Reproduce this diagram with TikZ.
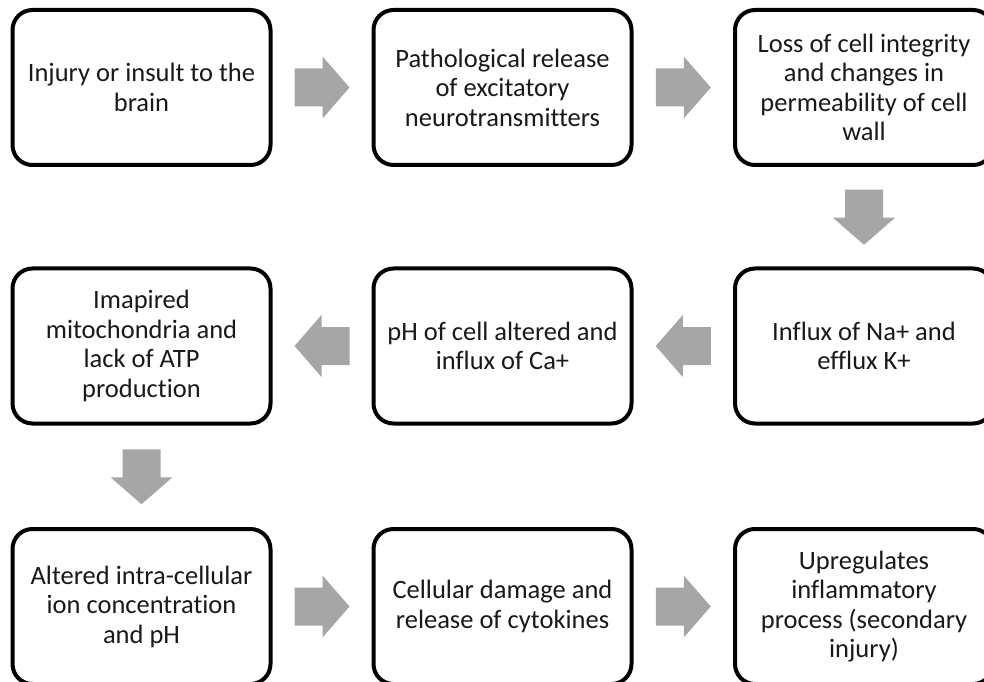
\documentclass[tikz,border=0pt]{standalone}
\usepackage{fontspec}
\setmainfont[Ligatures=NoCommon]{Carlito}
\usetikzlibrary{calc}
\definecolor{arrowgray}{HTML}{A6A6A6}
\begin{document}
\begin{tikzpicture}[x=1pt,y=1pt,
  box/.style={draw=black, line width=4pt, rounded corners=20pt, minimum width=258pt, minimum height=155pt, align=center, font=\fontsize{26.5}{29.5}\selectfont, inner sep=0pt, fill=white, text=black!90},
  arr/.style={fill=arrowgray, draw=none}]
\useasboundingbox (0,0) rectangle (984,681);
\clip (0,0) rectangle (984,681);
\node[box] (b1) at (141.5,593.5) {Injury or insult to the\\brain};
\node[box] (b2) at (502.5,593.5) {Pathological release\\of excitatory\\neurotransmitters};
\node[box] (b3) at (864,593.5) {Loss of cell integrity\\and changes in\\permeability of cell\\wall};
\node[box] (b4) at (864,335) {Influx of Na+ and\\efflux K+};
\node[box] (b5) at (502.5,335) {pH of cell altered and\\influx of Ca+};
\node[box] (b6) at (141.5,335) {Imapired\\mitochondria and\\lack of ATP\\production};
\node[box] (b7) at (141.5,74.5) {Altered intra-cellular\\ion concentration\\and pH};
\node[box] (b8) at (502.5,74.5) {Cellular damage and\\release of cytokines};
\node[box] (b9) at (864,74.5) {Upregulates\\inflammatory\\process (secondary\\injury)};
% right arrows
\fill[arr] ($(b1.east)!0.5!(b2.west)$) ++(-27.5,-19) -- ++(28,0) -- ++(0,-12) -- ++(27,31) -- ++(-27,31) -- ++(0,-12) -- ++(-28,0) -- cycle;
\fill[arr] ($(b2.east)!0.5!(b3.west)$) ++(-27.5,-19) -- ++(28,0) -- ++(0,-12) -- ++(27,31) -- ++(-27,31) -- ++(0,-12) -- ++(-28,0) -- cycle;
\fill[arr] ($(b7.east)!0.5!(b8.west)$) ++(-27.5,-19) -- ++(28,0) -- ++(0,-12) -- ++(27,31) -- ++(-27,31) -- ++(0,-12) -- ++(-28,0) -- cycle;
\fill[arr] ($(b8.east)!0.5!(b9.west)$) ++(-27.5,-19) -- ++(28,0) -- ++(0,-12) -- ++(27,31) -- ++(-27,31) -- ++(0,-12) -- ++(-28,0) -- cycle;
% left arrows
\fill[arr] ($(b4.west)!0.5!(b5.east)$) ++(27.5,-19) -- ++(-28,0) -- ++(0,-12) -- ++(-27,31) -- ++(27,31) -- ++(0,-12) -- ++(28,0) -- cycle;
\fill[arr] ($(b5.west)!0.5!(b6.east)$) ++(27.5,-19) -- ++(-28,0) -- ++(0,-12) -- ++(-27,31) -- ++(27,31) -- ++(0,-12) -- ++(28,0) -- cycle;
% down arrows
\fill[arr] ($(b3.south)!0.5!(b4.north)$) ++(-19,27) -- ++(0,-28) -- ++(-12,0) -- ++(31,-27) -- ++(31,27) -- ++(-12,0) -- ++(0,28) -- cycle;
\fill[arr] ($(b6.south)!0.5!(b7.north)$) ++(-19,27) -- ++(0,-28) -- ++(-12,0) -- ++(31,-27) -- ++(31,27) -- ++(-12,0) -- ++(0,28) -- cycle;
\end{tikzpicture}
\end{document}
